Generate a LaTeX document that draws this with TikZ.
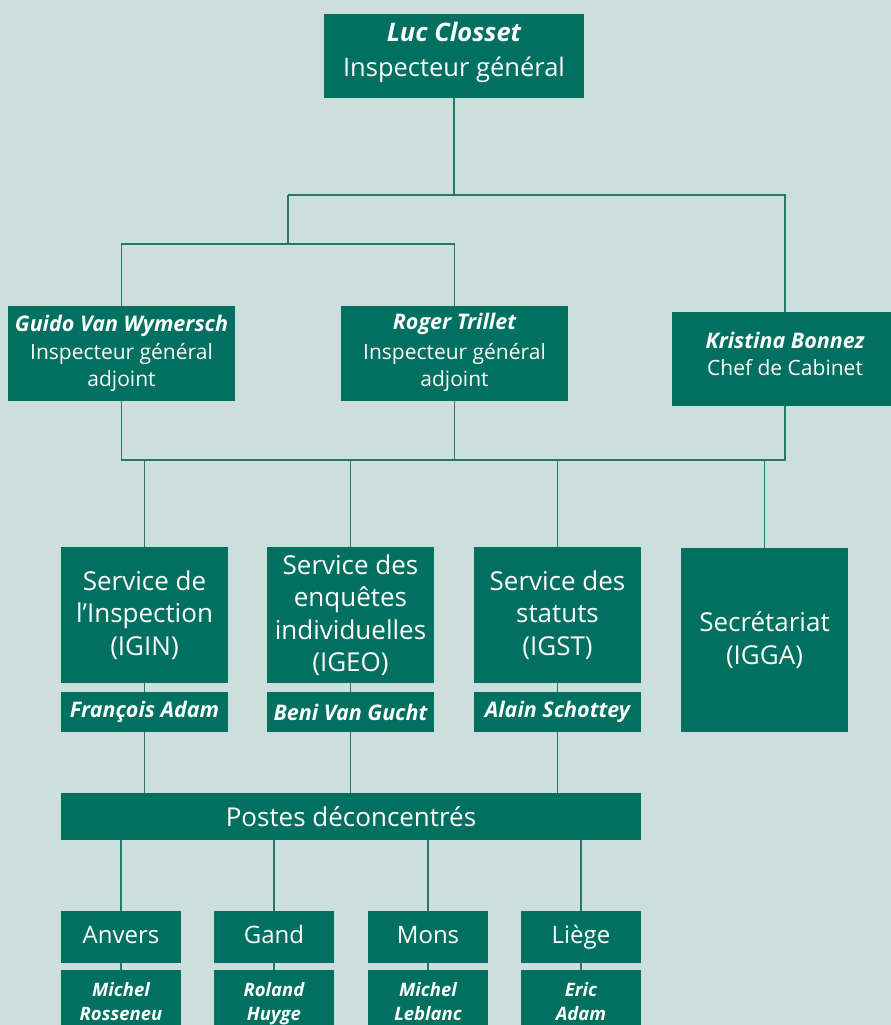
\documentclass[tikz,border=0pt]{standalone}
\usepackage{fontspec}
\setmainfont{Open Sans}
\definecolor{bg}{HTML}{CCDFDC}
\definecolor{boxc}{HTML}{007060}
\definecolor{linec}{HTML}{23786A}
\newcommand\bx[7]{\node[box,#7,minimum width={(#4-#2)*1pt},minimum height={(#5-#3)*1pt}] (#1) at ({(#2+#4)/2},{(#3+#5)/2}) {#6};}
\newcommand\nm[1]{{\bfseries\itshape #1}}
\newcommand\nmb[1]{{\fontsize{21.5}{27}\selectfont\bfseries\itshape #1}}
\newcommand\up[2]{\raisebox{#1}[\height][\depth]{#2}}
\begin{document}
\begin{tikzpicture}[x=1pt,y=-1pt,
  box/.style={fill=boxc,text=white,inner sep=0pt,align=center},
  conn/.style={draw=linec,line width=1.4pt},
  toptxt/.style={font=\fontsize{25.5}{35}\selectfont},
  bigtxt/.style={font=\fontsize{26}{32.5}\selectfont},
  midtxt/.style={font=\fontsize{21}{27.5}\selectfont},
  smtxt/.style={font=\fontsize{21.5}{27}\selectfont},
  cittxt/.style={font=\fontsize{24}{32.5}\selectfont,text height=18pt,text depth=5pt},
  bottxt/.style={font=\fontsize{18.5}{24}\selectfont,text height=40pt,text depth=2pt}]
\fill[bg] (0,0) rectangle (891,1025);
\useasboundingbox (0,0) rectangle (891,1025);
\clip (0,0) rectangle (891,1025);
\coordinate (y1) at (0,195);
\coordinate (y2) at (0,244);
\coordinate (y3) at (0,460);
% boxes
\bx{luc}{324}{14}{584}{98}{\up{4pt}{\nm{Luc Closset}}\\\up{4pt}{Inspecteur général}}{toptxt}
\bx{guido}{8}{306}{235}{401}{\nmb{Guido Van Wymersch}\\Inspecteur général\\adjoint}{midtxt}
\bx{roger}{341}{306}{568}{401}{\up{2pt}{\nmb{Roger Trillet}}\\Inspecteur général\\adjoint}{midtxt}
\bx{kris}{672}{312}{898}{406}{\up{5pt}{\nmb{Kristina Bonnez}}\\\up{5pt}{Chef de Cabinet}}{midtxt}
\bx{sI}{61}{547}{228}{683}{Service de\\l’Inspection\\(IGIN)}{bigtxt}
\bx{sE}{267}{547}{434}{683}{Service des\\enquêtes\\individuelles\\(IGEO)}{bigtxt}
\bx{sS}{474}{547}{641}{683}{Service des\\statuts\\(IGST)}{bigtxt}
\bx{sG}{681}{548}{848}{732}{Secrétariat\\(IGGA)}{bigtxt}
\bx{nI}{61}{692}{228}{732}{\nm{François Adam}}{smtxt}
\bx{nE}{267}{692}{434}{732}{\nm{Beni Van Gucht}}{smtxt}
\bx{nS}{474}{692}{641}{732}{\nm{Alain Schottey}}{smtxt}
\bx{postes}{61}{793}{641}{840}{Postes déconcentrés}{bigtxt}
\bx{c1}{61}{911}{181}{963}{Anvers}{cittxt}
\bx{c2}{214}{911}{334}{963}{Gand}{cittxt}
\bx{c3}{368}{911}{488}{963}{Mons}{cittxt}
\bx{c4}{521}{911}{641}{963}{Liège}{cittxt}
\bx{m1}{61}{970}{181}{1032}{\nm{Michel}\\\nm{Rosseneu}}{bottxt}
\bx{m2}{214}{970}{334}{1032}{\nm{Roland}\\\nm{Huyge}}{bottxt}
\bx{m3}{368}{970}{488}{1032}{\nm{Michel}\\\nm{Leblanc}}{bottxt}
\bx{m4}{521}{970}{641}{1032}{\nm{Eric}\\\nm{Adam}}{bottxt}
% connectors
\draw[conn] (luc.south) -- (luc.south |- y1);
\draw[conn] (288,195) coordinate (ja) -- (kris.north |- y1) -- (kris.north);
\draw[conn] (ja) -- (ja |- y2);
\draw[conn] (guido.north) -- (guido.north |- y2) -- (roger.north |- y2) -- (roger.north);
\draw[conn] (guido.south) -- (guido.south |- y3) -- (kris.south |- y3) -- (kris.south);
\draw[conn] (roger.south) -- (roger.south |- y3);
\foreach \s in {sI,sE,sS,sG} \draw[conn] (\s.north) -- (\s.north |- y3);
\foreach \s/\n in {sI/nI,sE/nE,sS/nS} {
  \draw[conn] (\s.south) -- (\n.north);
  \draw[conn] (\n.south) -- (\n.south |- postes.north);
}
\foreach \c/\m in {c1/m1,c2/m2,c3/m3,c4/m4} {
  \draw[conn] (\c.north) -- (\c.north |- postes.south);
  \draw[conn] (\c.south) -- (\m.north);
}
\end{tikzpicture}
\end{document}
